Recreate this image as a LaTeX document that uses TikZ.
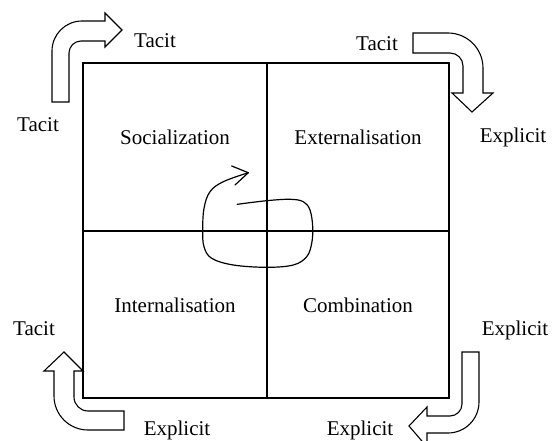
\documentclass[tikz,border=0pt]{standalone}
\usepackage{fontspec}
\setmainfont{Liberation Serif}
\begin{document}
\begin{tikzpicture}[x=1pt,y=-1pt,
  lbl/.style={inner sep=0pt,anchor=base,font=\fontsize{21}{25}\selectfont},
  frame/.style={line width=1.3pt},
  bigarrow/.style={line width=1.1pt,line join=miter,fill=white},
  spiral/.style={line width=1.2pt,line cap=round,line join=round}]
\useasboundingbox[fill=white] (0,0) rectangle (552,441);
% square
\draw[frame] (83,63) rectangle (449,398);
\coordinate (vt) at (267,63);
\coordinate (vb) at (267,398);
\coordinate (hl) at (83,231);
\coordinate (hr) at (449,231);
\draw[frame] (vt) -- (vb);
\draw[frame] (hl) -- (hr);
% quadrant labels
\node[lbl] (soc) at (175,145) {Socialization};
\node[lbl] (ext) at (358,145) {Externalisation};
\node[lbl] (int) at (175,312) {Internalisation};
\node[lbl] (com) at (358,312) {Combination};
% outer labels
\node[lbl] (t1) at (155,48) {Tacit};
\node[lbl] (t2) at (38,132) {Tacit};
\node[lbl] (t3) at (377,51) {Tacit};
\node[lbl] (e1) at (513,143) {Explicit};
\node[lbl] (t4) at (34,335) {Tacit};
\node[lbl] (e2) at (515,335) {Explicit};
\node[lbl] (e3) at (177,435) {Explicit};
\node[lbl] (e4) at (360,435) {Explicit};
% top-left bent arrow
\draw[bigarrow] (52,102) -- (52,51) .. controls (52,34.4) and (65.4,21) .. (82,21)
  -- (105,21) -- (105,13) -- (122,30) -- (105,47) -- (105,41) -- (81,41)
  .. controls (74.4,41) and (69,46.4) .. (69,53) -- (69,102) -- cycle;
% top-right bent arrow
\draw[bigarrow] (413,33) -- (448,33) .. controls (467.3,33) and (483,48.7) .. (483,68)
  -- (483,93) -- (493,93) -- (472,112) -- (452,93) -- (463,93) -- (463,66)
  .. controls (463,58.8) and (457.2,53) .. (450,53) -- (413,53) -- cycle;
% bottom-left bent arrow
\draw[bigarrow] (44,371) -- (64,352) -- (83,371) -- (74,371) -- (74,397)
  .. controls (74,404.7) and (80.3,411) .. (88,411) -- (124,411) -- (124,430)
  -- (88,430) .. controls (69.2,430) and (54,414.8) .. (54,396) -- (54,371) -- cycle;
% bottom-right bent arrow
\draw[bigarrow] (462,352) -- (479,352) -- (479,402)
  .. controls (479,419.1) and (465.1,433) .. (448,433) -- (427,433) -- (427,447)
  -- (409,426) -- (427,407) -- (427,416) -- (450,416)
  .. controls (456.6,416) and (462,410.6) .. (462,404) -- cycle;
% spiral
\coordinate (sptip) at (248.3,172.7);
\draw[spiral] plot[smooth,tension=0.6] coordinates {
  (237.3,204.3) (266.7,200.7) (290,199.3) (303.3,201.7) (310,210)
  (312.7,226.7) (311.7,243.3) (306.7,256.7) (293.3,265) (266.7,267.3)
  (233.3,265) (211.7,258.3) (204,246.7) (202.7,230) (204,208.3)
  (210,191.7) (223.3,181.7) (248.3,172.7)};
\coordinate (sph1) at (231.7,166);
\coordinate (sph2) at (235,185);
\draw[spiral] (sph1) -- (sptip) -- (sph2);
\end{tikzpicture}
\end{document}
